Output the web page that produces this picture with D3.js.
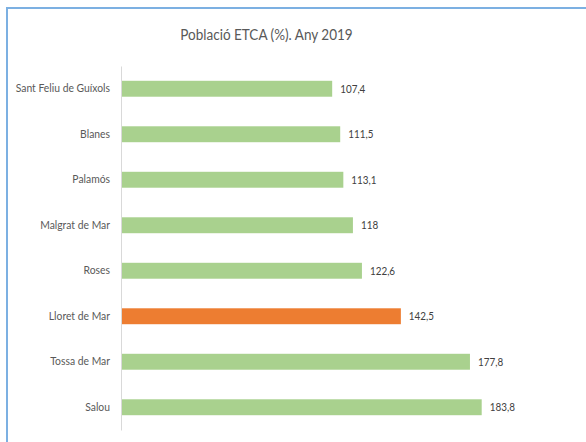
<!DOCTYPE html>
<html><head><meta charset="utf-8">
<script src="https://cdn.jsdelivr.net/npm/d3@7"></script>
<style>html,body{margin:0;padding:0;background:#fff;overflow:hidden}</style>
</head><body>
<svg id="c" width="586" height="442"></svg>
<script>
const categories = ["Sant Feliu de Guíxols","Blanes","Palamós","Malgrat de Mar","Roses","Lloret de Mar","Tossa de Mar","Salou"];
const values = [107.4,111.5,113.1,118,122.6,142.5,177.8,183.8];
const highlight = "Lloret de Mar";
const title = "Població ETCA (%). Any 2019";

const svg = d3.select("#c");
const font = "Lato, 'Open Sans', sans-serif";

svg.append("rect").attr("x",7).attr("y",8).attr("width",600).attr("height",460)
  .attr("fill","#fff").attr("stroke","#7cb0e2").attr("stroke-width",2);

svg.append("text").attr("transform","translate(266.5,40) scale(0.845,1)").attr("text-anchor","middle")
  .attr("font-family",font).attr("font-size",16).attr("fill","#595959").text(title);

const x = d3.scaleLinear().domain([0,200]).range([122,122+200*1.957]);
const y = d3.scaleBand().domain(categories).range([66,430]).paddingInner(0.65).paddingOuter(0.325);

const sxL = 0.9;
const yAxis = svg.append("g").attr("transform","translate(121,0)")
  .call(d3.axisLeft(y).tickSize(0).tickPadding(11));
yAxis.select(".domain").attr("stroke","#d9d9d9").attr("stroke-width",1);
yAxis.selectAll("text").attr("font-family",font).attr("font-size",11.5).attr("fill","#595959")
  .attr("x",-11/sxL).attr("transform",`scale(${sxL},1)`);

svg.append("g").selectAll("rect").data(categories).join("rect")
  .attr("x",x(0)).attr("y",d=>y(d)).attr("height",y.bandwidth())
  .attr("width",(d,i)=>x(values[i])-x(0))
  .attr("fill",d=>d===highlight?"#ed7d31":"#a9d18e");

svg.append("g").selectAll("text").data(categories).join("text")
  .attr("transform",(d,i)=>`translate(${x(values[i])+8},${y(d)+y.bandwidth()/2}) scale(0.86,1)`)
  .attr("dy","0.35em")
  .attr("font-family",font).attr("font-size",11.5).attr("fill","#404040")
  .text((d,i)=>String(values[i]).replace(".",","));
</script>
</body></html>
